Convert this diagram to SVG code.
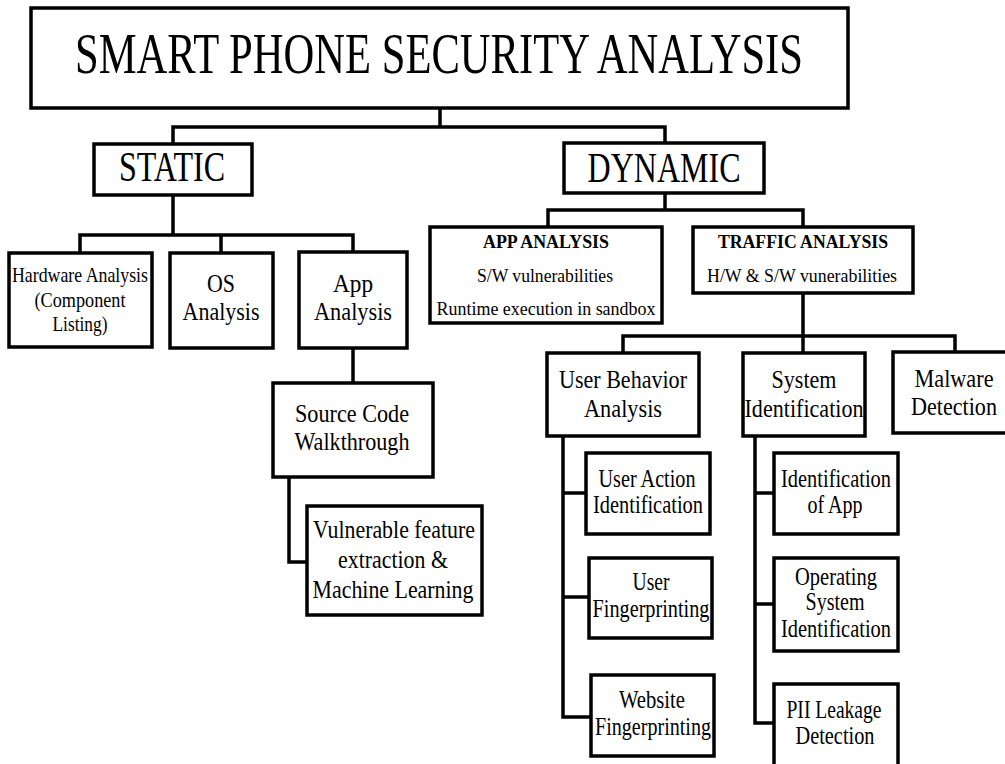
<svg xmlns="http://www.w3.org/2000/svg" width="1005" height="764" viewBox="0 0 1005 764">
  <style>
    .box { fill: #ffffff; stroke: #000000; stroke-width: 3.5; }
    .wire { fill: none; stroke: #000000; stroke-width: 3.5; stroke-linejoin: miter; }
    text { font-family: 'Liberation Serif', 'DejaVu Serif', 'Times New Roman', serif; fill: #000000; text-anchor: middle; }
    .t57 { font-size: 57px; }
    .t43 { font-size: 43px; }
    .t26 { font-size: 26px; }
    .t22 { font-size: 22px; }
    .t19 { font-size: 19px; }
    .b { font-weight: bold; }
  </style>
  <rect width="1005" height="764" fill="#ffffff"/>

  <!-- connectors -->
  <g id="connectors">
    <path class="wire" d="M440,108 V127"/>
    <path class="wire" d="M173,144 V127 H665 V143"/>
    <path class="wire" d="M173,195 V235"/>
    <path class="wire" d="M80,253 V235 H353 V252"/>
    <path class="wire" d="M221,235 V253"/>
    <path class="wire" d="M353,348 V383"/>
    <path class="wire" d="M289,477 V562 H307"/>
    <path class="wire" d="M665,193 V210"/>
    <path class="wire" d="M548,227 V210 H803 V227"/>
    <path class="wire" d="M803,293 V353"/>
    <path class="wire" d="M623,353 V336 H955 V352"/>
    <path class="wire" d="M563,436 V717 H591"/>
    <path class="wire" d="M563,493 H586"/>
    <path class="wire" d="M563,597 H589"/>
    <path class="wire" d="M755,436 V723 H774"/>
    <path class="wire" d="M755,493 H774"/>
    <path class="wire" d="M755,604 H774"/>
  </g>

  <g id="title">
    <rect class="box" x="31" y="8" width="817" height="100"/>
    <text class="t57" x="439" y="73" textLength="728" lengthAdjust="spacingAndGlyphs">SMART PHONE SECURITY ANALYSIS</text>
  </g>

  <g id="static">
    <rect class="box" x="94" y="144" width="158" height="51"/>
    <text class="t43" x="172" y="181" textLength="106" lengthAdjust="spacingAndGlyphs">STATIC</text>
  </g>

  <g id="dynamic">
    <rect class="box" x="564" y="143" width="200" height="50"/>
    <text class="t43" x="664" y="182" textLength="153" lengthAdjust="spacingAndGlyphs">DYNAMIC</text>
  </g>

  <g id="dyn-app-analysis">
    <rect class="box" x="430" y="227" width="232" height="96"/>
    <text class="t19 b" x="546" y="248" textLength="126" lengthAdjust="spacingAndGlyphs">APP ANALYSIS</text>
    <text class="t19" x="545" y="282" textLength="136" lengthAdjust="spacingAndGlyphs">S/W vulnerabilities</text>
    <text class="t19" x="546" y="315" textLength="219" lengthAdjust="spacingAndGlyphs">Runtime execution in sandbox</text>
  </g>

  <g id="traffic-analysis">
    <rect class="box" x="693" y="227" width="220" height="66"/>
    <text class="t19 b" x="803" y="248" textLength="170" lengthAdjust="spacingAndGlyphs">TRAFFIC ANALYSIS</text>
    <text class="t19" x="802" y="282" textLength="190" lengthAdjust="spacingAndGlyphs">H/W &amp; S/W vunerabilities</text>
  </g>

  <g id="hardware-analysis">
    <rect class="box" x="9" y="253" width="143" height="94"/>
    <text class="t22" x="80" y="282" textLength="136" lengthAdjust="spacingAndGlyphs">Hardware Analysis</text>
    <text class="t22" x="80" y="307" textLength="91" lengthAdjust="spacingAndGlyphs">(Component</text>
    <text class="t22" x="80" y="331" textLength="55" lengthAdjust="spacingAndGlyphs">Listing)</text>
  </g>

  <g id="os-analysis">
    <rect class="box" x="170" y="253" width="103" height="95"/>
    <text class="t26" x="221" y="292" textLength="28" lengthAdjust="spacingAndGlyphs">OS</text>
    <text class="t26" x="221" y="320" textLength="77" lengthAdjust="spacingAndGlyphs">Analysis</text>
  </g>

  <g id="static-app-analysis">
    <rect class="box" x="299" y="252" width="108" height="96"/>
    <text class="t26" x="353" y="292" textLength="40" lengthAdjust="spacingAndGlyphs">App</text>
    <text class="t26" x="353" y="320" textLength="78" lengthAdjust="spacingAndGlyphs">Analysis</text>
  </g>

  <g id="source-code-walkthrough">
    <rect class="box" x="273" y="383" width="160" height="94"/>
    <text class="t26" x="352" y="422" textLength="114" lengthAdjust="spacingAndGlyphs">Source Code</text>
    <text class="t26" x="352" y="450" textLength="115" lengthAdjust="spacingAndGlyphs">Walkthrough</text>
  </g>

  <g id="feature-extraction">
    <rect class="box" x="307" y="506" width="175" height="109"/>
    <text class="t26" x="394" y="538" textLength="162" lengthAdjust="spacingAndGlyphs">Vulnerable feature</text>
    <text class="t26" x="393" y="568" textLength="110" lengthAdjust="spacingAndGlyphs">extraction &amp;</text>
    <text class="t26" x="393" y="598" textLength="161" lengthAdjust="spacingAndGlyphs">Machine Learning</text>
  </g>

  <g id="user-behavior-analysis">
    <rect class="box" x="547" y="353" width="152" height="83"/>
    <text class="t26" x="623" y="388" textLength="128" lengthAdjust="spacingAndGlyphs">User Behavior</text>
    <text class="t26" x="623" y="417" textLength="78" lengthAdjust="spacingAndGlyphs">Analysis</text>
  </g>

  <g id="system-identification">
    <rect class="box" x="743" y="353" width="122" height="83"/>
    <text class="t26" x="804" y="388" textLength="65" lengthAdjust="spacingAndGlyphs">System</text>
    <text class="t26" x="804" y="417" textLength="119" lengthAdjust="spacingAndGlyphs">Identification</text>
  </g>

  <g id="malware-detection">
    <rect class="box" x="893" y="352" width="130" height="81"/>
    <text class="t26" x="954" y="387" textLength="79" lengthAdjust="spacingAndGlyphs">Malware</text>
    <text class="t26" x="954" y="415" textLength="86" lengthAdjust="spacingAndGlyphs">Detection</text>
  </g>

  <g id="user-action-identification">
    <rect class="box" x="586" y="453" width="124" height="81"/>
    <text class="t26" x="647" y="487" textLength="97" lengthAdjust="spacingAndGlyphs">User Action</text>
    <text class="t26" x="648" y="513" textLength="110" lengthAdjust="spacingAndGlyphs">Identification</text>
  </g>

  <g id="user-fingerprinting">
    <rect class="box" x="589" y="558" width="123" height="80"/>
    <text class="t26" x="651" y="590" textLength="37" lengthAdjust="spacingAndGlyphs">User</text>
    <text class="t26" x="651" y="617" textLength="117" lengthAdjust="spacingAndGlyphs">Fingerprinting</text>
  </g>

  <g id="website-fingerprinting">
    <rect class="box" x="591" y="675" width="123" height="81"/>
    <text class="t26" x="652" y="708" textLength="66" lengthAdjust="spacingAndGlyphs">Website</text>
    <text class="t26" x="653" y="735" textLength="116" lengthAdjust="spacingAndGlyphs">Fingerprinting</text>
  </g>

  <g id="app-identification">
    <rect class="box" x="774" y="453" width="124" height="81"/>
    <text class="t26" x="836" y="487" textLength="110" lengthAdjust="spacingAndGlyphs">Identification</text>
    <text class="t26" x="835" y="513" textLength="55" lengthAdjust="spacingAndGlyphs">of App</text>
  </g>

  <g id="os-identification">
    <rect class="box" x="774" y="558" width="124" height="93"/>
    <text class="t26" x="836" y="585" textLength="82" lengthAdjust="spacingAndGlyphs">Operating</text>
    <text class="t26" x="835" y="610" textLength="59" lengthAdjust="spacingAndGlyphs">System</text>
    <text class="t26" x="836" y="637" textLength="110" lengthAdjust="spacingAndGlyphs">Identification</text>
  </g>

  <g id="pii-leakage-detection">
    <rect class="box" x="774" y="684" width="124" height="90"/>
    <text class="t26" x="834" y="718" textLength="95" lengthAdjust="spacingAndGlyphs">PII Leakage</text>
    <text class="t26" x="835" y="744" textLength="79" lengthAdjust="spacingAndGlyphs">Detection</text>
  </g>
</svg>
